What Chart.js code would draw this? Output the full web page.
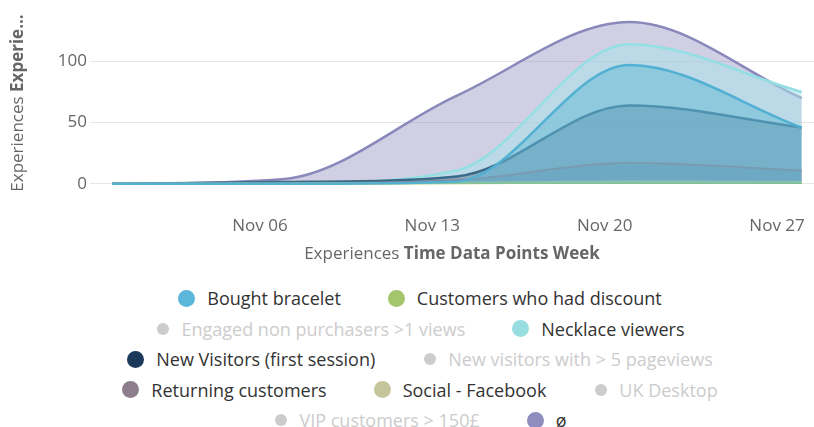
<!DOCTYPE html>
<html>
<head>
<meta charset="utf-8">
<script src="https://cdn.jsdelivr.net/npm/chart.js@4"></script>
<style>
  body { margin: 0; background: #fff; font-family: "Open Sans", sans-serif; }
  #wrap { width: 814px; height: 427px; position: relative; }
  #legend { position: absolute; top: 283px; left: 0; width: 814px; padding-left: 26px; box-sizing: border-box; }
  .row { display: flex; justify-content: center; height: 30.5px; align-items: center; }
  .item { display: flex; align-items: center; margin: 0 23.5px; font-size: 18px; color: #333; white-space: nowrap; }
  .item.off { color: #ccc; }
  .dot { border-radius: 50%; margin-right: 12px; flex: none; }
</style>
</head>
<body>
<div id="wrap">
  <canvas id="chart" width="814" height="270"></canvas>
  <div id="legend"></div>
</div>
<script>
// weekly data points, Oct 31 .. Nov 28 (days after Oct 31)
const pointDays = [0, 7, 14, 21, 28];
const tickDays = [6, 13, 20, 27];
const tickLabels = ["Nov 06", "Nov 13", "Nov 20", "Nov 27"];
const yTicks = [0, 50, 100];

const emptySet = [0, 4, 72, 132, 70];
const necklaceViewers = [0, 0.5, 11, 114, 75];
const boughtBracelet = [0, 0, 2, 97, 46];
const newVisitors = [0, 1.5, 6, 64, 46];
const returningCustomers = [0, 0.5, 3, 17, 11];
const socialFacebook = [0, 0, 1, 2, 1.5];
const hadDiscount = [0, 0, 0.5, 1, 1];

const legendItems = [
  { name: "Bought bracelet", color: "#5bb6d9" },
  { name: "Customers who had discount", color: "#a3c66c" },
  { name: "Engaged non purchasers >1 views", color: null },
  { name: "Necklace viewers", color: "#98dde0" },
  { name: "New Visitors (first session)", color: "#1b3a5a" },
  { name: "New visitors with > 5 pageviews", color: null },
  { name: "Returning customers", color: "#8e7d8c" },
  { name: "Social - Facebook", color: "#c5c59c" },
  { name: "UK Desktop", color: null },
  { name: "VIP customers > 150£", color: null },
  { name: "ø", color: "#8f8dbf" }
];
const legendRows = [[0, 1], [2, 3], [4, 5], [6, 7, 8], [9, 10]];

function pts(values) {
  return values.map((v, i) => ({ x: pointDays[i], y: v }));
}

function area(label, values, line, fill, order, width) {
  return {
    label: label,
    data: pts(values),
    borderColor: line,
    backgroundColor: fill,
    borderWidth: width || 2.5,
    fill: "origin",
    cubicInterpolationMode: "monotone",
    pointRadius: 0,
    order: order
  };
}

// draws the two-weight axis titles
const axisTitles = {
  id: "axisTitles",
  afterDraw(chart) {
    const ctx = chart.ctx;
    const a = chart.chartArea;
    function two(x, y, rot, plain, bold) {
      ctx.save();
      ctx.translate(x, y);
      ctx.rotate(rot);
      ctx.fillStyle = "#666";
      ctx.textBaseline = "middle";
      ctx.font = "17px 'Open Sans'";
      const w1 = ctx.measureText(plain).width;
      ctx.font = "bold 17px 'Open Sans'";
      const w2 = ctx.measureText(bold).width;
      const start = -(w1 + w2) / 2;
      ctx.font = "17px 'Open Sans'";
      ctx.fillText(plain, start, 0);
      ctx.font = "bold 17px 'Open Sans'";
      ctx.fillText(bold, start + w1, 0);
      ctx.restore();
    }
    two(18, 103, -Math.PI / 2, "Experiences ", "Experie...");
    two((a.left + a.right) / 2, 254, 0, "Experiences ", "Time Data Points Week");
  }
};

new Chart(document.getElementById("chart"), {
  type: "line",
  data: {
    datasets: [
      area("Bought bracelet", boughtBracelet, "#52b0d3", "rgba(100,185,215,0.5)", 2),
      area("Customers who had discount", hadDiscount, "#9cc96b", "rgba(163,198,108,0.2)", 3, 2),
      area("Necklace viewers", necklaceViewers, "#93dfe3", "rgba(170,225,232,0.55)", 7),
      area("New Visitors (first session)", newVisitors, "#3a6a88", "rgba(30,60,90,0.3)", 6),
      area("Returning customers", returningCustomers, "#8e7d8c", "rgba(70,110,140,0.25)", 5, 2),
      area("Social - Facebook", socialFacebook, "#c5c59c", "rgba(197,197,156,0.2)", 4, 2),
      area("ø", emptySet, "#8a88bb", "rgba(143,141,191,0.42)", 8)
    ]
  },
  options: {
    responsive: false,
    animation: false,
    devicePixelRatio: 1,
    layout: { padding: 0 },
    plugins: { legend: { display: false }, tooltip: { enabled: false } },
    scales: {
      x: {
        type: "linear",
        min: -0.9,
        max: 28.5,
        afterBuildTicks: (s) => { s.ticks = tickDays.map(v => ({ value: v })); },
        afterFit: (s) => { s.height = 80; s.paddingLeft = 0; s.paddingRight = 0; },
        grid: { display: false },
        border: { display: false },
        ticks: {
          color: "#666",
          font: { family: "Open Sans", size: 17 },
          padding: 18,
          maxRotation: 0,
          autoSkip: false,
          callback: (v) => tickLabels[tickDays.indexOf(v)]
        }
      },
      y: {
        min: -5,
        max: 150,
        afterBuildTicks: (s) => { s.ticks = yTicks.map(v => ({ value: v })); },
        afterFit: (s) => { s.width = 90; s.paddingTop = 0; s.paddingBottom = 0; },
        grid: { color: "#e6e6e6", drawTicks: false },
        border: { display: false },
        ticks: {
          color: "#666",
          font: { family: "Open Sans", size: 17 },
          padding: 3
        }
      }
    }
  },
  plugins: [axisTitles]
});

const legend = document.getElementById("legend");
legendRows.forEach(row => {
  const r = document.createElement("div");
  r.className = "row";
  row.forEach(i => {
    const it = legendItems[i];
    const el = document.createElement("div");
    el.className = "item" + (it.color ? "" : " off");
    const dot = document.createElement("span");
    dot.className = "dot";
    const size = it.color ? 17 : 12;
    dot.style.width = size + "px";
    dot.style.height = size + "px";
    dot.style.background = it.color || "#ccc";
    if (!it.color) dot.style.margin = "0 12px 0 2px";
    el.appendChild(dot);
    el.appendChild(document.createTextNode(it.name));
    r.appendChild(el);
  });
  legend.appendChild(r);
});
</script>
</body>
</html>
